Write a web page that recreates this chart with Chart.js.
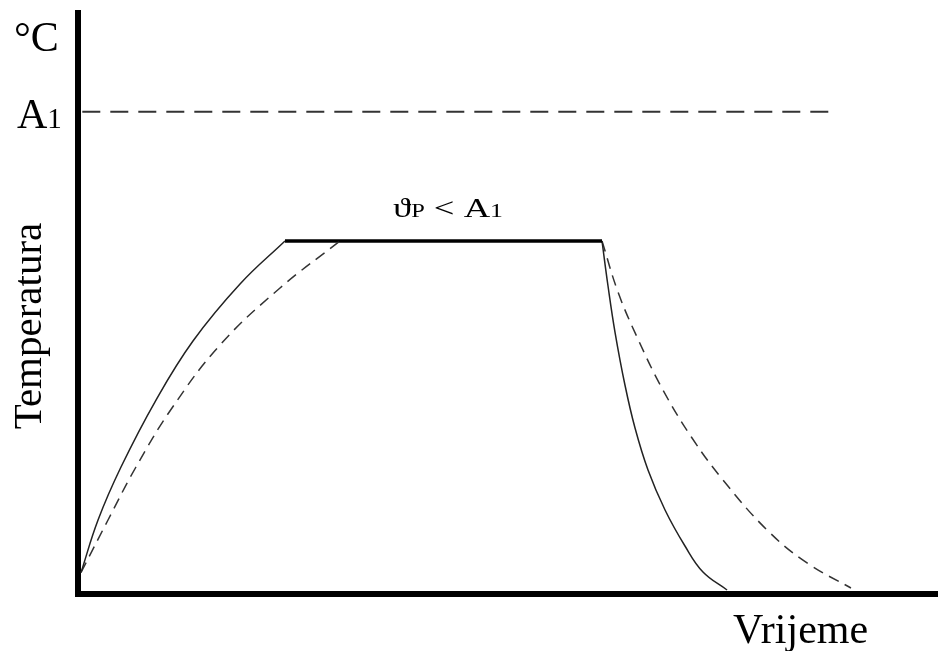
<!DOCTYPE html>
<html>
<head>
<meta charset="utf-8">
<script src="https://cdn.jsdelivr.net/npm/chart.js@4"></script>
<style>
  html, body { margin: 0; padding: 0; background: #fff; }
  #wrap { width: 938px; height: 651px; }
</style>
</head>
<body>
<div id="wrap"><canvas id="c" width="938" height="651"></canvas></div>
<script>
// ---- data (time and temperature in relative units) ----
const heatSolidX = [0.35, 2.33, 5.0, 9.07, 13.37, 18.84, 24.07];
const heatSolidY = [3.7, 12.74, 21.86, 33.39, 43.55, 53.36, 60.76];
const heatDashX  = [0.35, 3.49, 6.74, 10.93, 16.51, 23.49, 30.47];
const heatDashY  = [3.7, 12.74, 21.86, 32.01, 42.86, 52.67, 60.76];
const holdX      = [24.07, 60.93];
const holdY      = [60.76, 60.76];
const coolSolidX = [60.93, 61.63, 62.44, 63.6, 64.77, 66.28, 68.26, 70.58, 72.67, 75.47];
const coolSolidY = [60.76, 53.01, 45.09, 35.97, 28.57, 21.34, 14.46, 8.26, 3.79, 0.69];
const coolDashX  = [60.93, 62.79, 65.0, 68.02, 71.4, 75.0, 80.12, 84.77, 89.88];
const coolDashY  = [60.76, 51.98, 44.23, 35.11, 26.85, 19.62, 11.02, 5.34, 1.03];
const a1X        = [0.5, 87.4];
const a1Y        = [83.0, 83.0];

const yAxisLabel = 'Temperatura';
const xAxisLabel = 'Vrijeme';
const unitLabel  = '°C';
const holdLabel  = ['ϑ', 'P', ' < A', '1'];
const a1Label    = ['A', '1'];

const pts = (xs, ys) => xs.map((x, i) => ({ x: x, y: ys[i] }));

const SERIF = '"Liberation Serif", "Times New Roman", serif';

const textPlugin = {
  id: 'texts',
  afterDraw(chart) {
    const ctx = chart.ctx;
    const ys = chart.scales.y;
    ctx.save();
    ctx.fillStyle = '#000';
    ctx.textBaseline = 'alphabetic';
    ctx.textAlign = 'left';

    // °C unit label
    ctx.font = '42px ' + SERIF;
    ctx.fillText(unitLabel, 14, 51);

    // A1 label at level of A1 line
    const ya = ys.getPixelForValue(a1Y[0]) + 16;
    ctx.font = '42px ' + SERIF;
    ctx.fillText(a1Label[0], 17, ya);
    const w = ctx.measureText(a1Label[0]).width;
    ctx.font = '29px ' + SERIF;
    ctx.fillText(a1Label[1], 17 + w, ya);

    // hold label (slightly wide, as in the picture)
    const yh = ys.getPixelForValue(holdY[0]) - 24;
    const fonts = ['27px ', '18px ', '27px ', '19px '];
    let total = 0;
    holdLabel.forEach((s, i) => { ctx.font = fonts[i] + SERIF; total += ctx.measureText(s).width; });
    const sx = 110 / total;
    ctx.save();
    ctx.translate(393, yh);
    ctx.scale(sx, 1);
    let x = 0;
    holdLabel.forEach((s, i) => {
      ctx.font = fonts[i] + SERIF;
      ctx.fillText(s, x, 0);
      x += ctx.measureText(s).width;
    });
    ctx.restore();

    // x axis label
    ctx.font = '42px ' + SERIF;
    ctx.fillText(xAxisLabel, 733, 643);

    // y axis label (rotated)
    ctx.save();
    ctx.translate(41, 326);
    ctx.rotate(-Math.PI / 2);
    ctx.textAlign = 'center';
    ctx.font = '41px ' + SERIF;
    ctx.fillText(yAxisLabel, 0, 0);
    ctx.restore();

    ctx.restore();
  }
};

new Chart(document.getElementById('c'), {
  type: 'line',
  data: {
    datasets: [
      { data: pts(a1X, a1Y), borderColor: '#333', borderWidth: 2, borderDash: [18, 10], pointRadius: 0, tension: 0 },
      { data: pts(heatSolidX, heatSolidY), borderColor: '#222', borderWidth: 1.5, pointRadius: 0, tension: 0.4 },
      { data: pts(heatDashX, heatDashY), borderColor: '#333', borderWidth: 1.5, borderDash: [11, 7], pointRadius: 0, tension: 0.4 },
      { data: pts(holdX, holdY), borderColor: '#000', borderWidth: 3.5, pointRadius: 0, tension: 0 },
      { data: pts(coolSolidX, coolSolidY), borderColor: '#222', borderWidth: 1.5, pointRadius: 0, tension: 0.4 },
      { data: pts(coolDashX, coolDashY), borderColor: '#333', borderWidth: 1.5, borderDash: [11, 7], pointRadius: 0, tension: 0.4 }
    ]
  },
  options: {
    responsive: false,
    devicePixelRatio: 1,
    animation: false,
    layout: { padding: { left: 78, right: 0, top: 13, bottom: 57 } },
    plugins: { legend: { display: false }, tooltip: { enabled: false } },
    scales: {
      x: {
        type: 'linear', min: 0, max: 100,
        grid: { display: false, drawTicks: false, tickLength: 0 },
        ticks: { display: false },
        border: { display: true, width: 6, color: '#000' }
      },
      y: {
        type: 'linear', min: 0, max: 100,
        grid: { display: false, drawTicks: false, tickLength: 0 },
        ticks: { display: false },
        border: { display: true, width: 6, color: '#000' }
      }
    }
  },
  plugins: [textPlugin]
});
</script>
</body>
</html>
